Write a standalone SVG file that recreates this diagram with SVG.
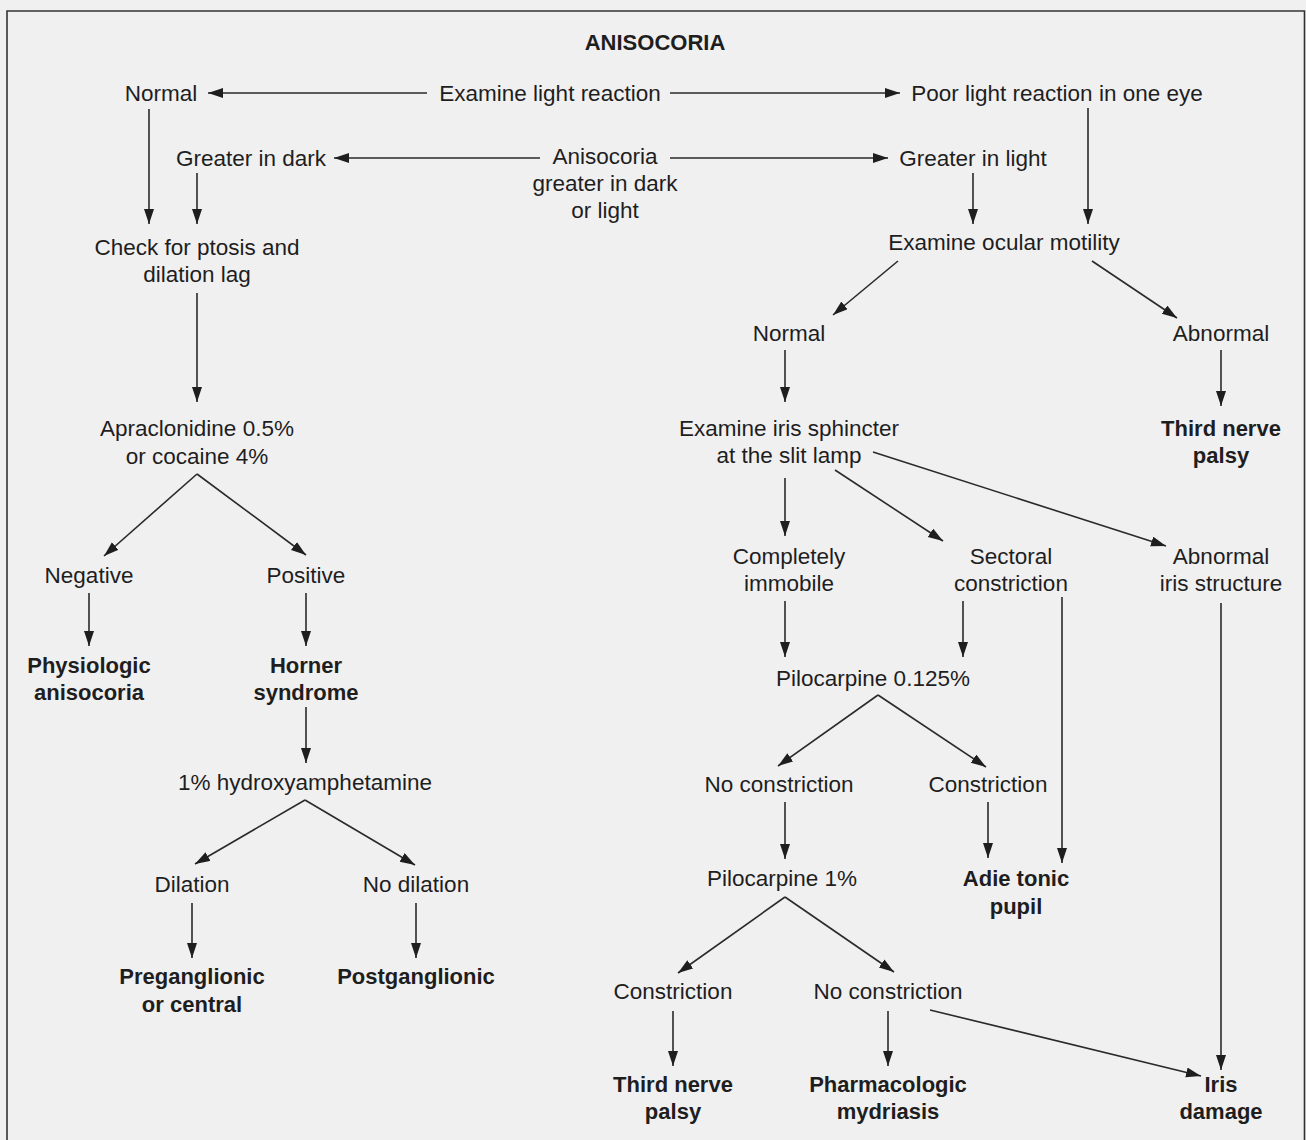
<svg xmlns="http://www.w3.org/2000/svg" width="1306" height="1140" viewBox="0 0 1306 1140">
  <style>
    text { font-family: "Liberation Sans", Arial, sans-serif; font-size: 22.5px; fill: #1e1e1e; text-anchor: middle; }
    .b { font-weight: bold; font-size: 22px; }
    .c { stroke: #2a2a2a; stroke-width: 1.6; fill: none; marker-end: url(#ah); }
  </style>
  <defs>
    <marker id="ah" markerUnits="userSpaceOnUse" markerWidth="16" markerHeight="12" refX="15" refY="5" orient="auto">
      <path d="M0,0 L15,5 L0,10 z" fill="#1e1e1e"/>
    </marker>
  </defs>

  <!-- background and frame -->
  <rect x="0" y="0" width="1306" height="1140" fill="#f1f0f1"/>
  <path d="M7,1140 V11 H1304.5 V1140" fill="none" stroke="#333" stroke-width="1.6"/>

  <!-- connectors -->
  <g id="connectors">
    <line class="c" x1="427" y1="93" x2="208" y2="93"/>
    <line class="c" x1="670" y1="93" x2="900" y2="93"/>
    <line class="c" x1="149" y1="109" x2="149" y2="224"/>
    <line class="c" x1="197" y1="173" x2="197" y2="224"/>
    <line class="c" x1="540" y1="158" x2="334" y2="158"/>
    <line class="c" x1="670" y1="158" x2="888" y2="158"/>
    <line class="c" x1="973" y1="173" x2="973" y2="224"/>
    <line class="c" x1="1088" y1="108" x2="1088" y2="224"/>
    <line class="c" x1="197" y1="293" x2="197" y2="402"/>
    <line class="c" x1="898" y1="261" x2="833" y2="315"/>
    <line class="c" x1="1092" y1="261" x2="1177" y2="318"/>
    <line class="c" x1="785" y1="350" x2="785" y2="402"/>
    <line class="c" x1="1221" y1="350" x2="1221" y2="406"/>
    <line class="c" x1="197" y1="474" x2="104" y2="556"/>
    <line class="c" x1="197" y1="474" x2="306" y2="555"/>
    <line class="c" x1="89" y1="593" x2="89" y2="646"/>
    <line class="c" x1="306" y1="593" x2="306" y2="646"/>
    <line class="c" x1="306" y1="707" x2="306" y2="763"/>
    <line class="c" x1="305" y1="800" x2="195" y2="864"/>
    <line class="c" x1="305" y1="800" x2="415" y2="865"/>
    <line class="c" x1="192" y1="903" x2="192" y2="958"/>
    <line class="c" x1="416" y1="903" x2="416" y2="958"/>
    <line class="c" x1="785" y1="478" x2="785" y2="536"/>
    <line class="c" x1="835" y1="470" x2="943" y2="541"/>
    <line class="c" x1="873" y1="452" x2="1166" y2="546"/>
    <line class="c" x1="785" y1="601" x2="785" y2="657"/>
    <line class="c" x1="963" y1="601" x2="963" y2="657"/>
    <line class="c" x1="1062" y1="597" x2="1062" y2="863"/>
    <line class="c" x1="1221" y1="603" x2="1221" y2="1070"/>
    <line class="c" x1="878" y1="695" x2="778" y2="766"/>
    <line class="c" x1="878" y1="695" x2="986" y2="767"/>
    <line class="c" x1="785" y1="802" x2="785" y2="859"/>
    <line class="c" x1="988" y1="802" x2="988" y2="858"/>
    <line class="c" x1="785" y1="897" x2="678" y2="973"/>
    <line class="c" x1="785" y1="897" x2="894" y2="972"/>
    <line class="c" x1="673" y1="1011" x2="673" y2="1066"/>
    <line class="c" x1="888" y1="1011" x2="888" y2="1066"/>
    <line class="c" x1="930" y1="1010" x2="1201" y2="1076"/>
  </g>

  <!-- nodes -->
  <g id="title"><text class="b" x="655" y="50">ANISOCORIA</text></g>
  <g id="normal-light"><text x="161" y="101">Normal</text></g>
  <g id="examine-light"><text x="550" y="101">Examine light reaction</text></g>
  <g id="poor-light"><text x="1057" y="101">Poor light reaction in one eye</text></g>
  <g id="greater-dark"><text x="251" y="166">Greater in dark</text></g>
  <g id="aniso-dark-light"><text x="605" y="164">Anisocoria</text><text x="605" y="191">greater in dark</text><text x="605" y="218">or light</text></g>
  <g id="greater-light"><text x="973" y="166">Greater in light</text></g>
  <g id="check-ptosis"><text x="197" y="255">Check for ptosis and</text><text x="197" y="282">dilation lag</text></g>
  <g id="ocular-motility"><text x="1004" y="250">Examine ocular motility</text></g>
  <g id="motility-normal"><text x="789" y="341">Normal</text></g>
  <g id="motility-abnormal"><text x="1221" y="341">Abnormal</text></g>
  <g id="apraclonidine"><text x="197" y="436">Apraclonidine 0.5%</text><text x="197" y="464">or cocaine 4%</text></g>
  <g id="iris-sphincter"><text x="789" y="436">Examine iris sphincter</text><text x="789" y="463">at the slit lamp</text></g>
  <g id="third-nerve-1"><text class="b" x="1221" y="436">Third nerve</text><text class="b" x="1221" y="463">palsy</text></g>
  <g id="negative"><text x="89" y="583">Negative</text></g>
  <g id="positive"><text x="306" y="583">Positive</text></g>
  <g id="immobile"><text x="789" y="564">Completely</text><text x="789" y="591">immobile</text></g>
  <g id="sectoral"><text x="1011" y="564">Sectoral</text><text x="1011" y="591">constriction</text></g>
  <g id="abnormal-iris"><text x="1221" y="564">Abnormal</text><text x="1221" y="591">iris structure</text></g>
  <g id="physiologic"><text class="b" x="89" y="673">Physiologic</text><text class="b" x="89" y="700">anisocoria</text></g>
  <g id="horner"><text class="b" x="306" y="673">Horner</text><text class="b" x="306" y="700">syndrome</text></g>
  <g id="pilo-0125"><text x="873" y="686">Pilocarpine 0.125%</text></g>
  <g id="hydroxyamphetamine"><text x="305" y="790">1% hydroxyamphetamine</text></g>
  <g id="no-constriction-1"><text x="779" y="792">No constriction</text></g>
  <g id="constriction-1"><text x="988" y="792">Constriction</text></g>
  <g id="dilation"><text x="192" y="892">Dilation</text></g>
  <g id="no-dilation"><text x="416" y="892">No dilation</text></g>
  <g id="pilo-1"><text x="782" y="886">Pilocarpine 1%</text></g>
  <g id="adie"><text class="b" x="1016" y="886">Adie tonic</text><text class="b" x="1016" y="914">pupil</text></g>
  <g id="preganglionic"><text class="b" x="192" y="984">Preganglionic</text><text class="b" x="192" y="1012">or central</text></g>
  <g id="postganglionic"><text class="b" x="416" y="984">Postganglionic</text></g>
  <g id="constriction-2"><text x="673" y="999">Constriction</text></g>
  <g id="no-constriction-2"><text x="888" y="999">No constriction</text></g>
  <g id="third-nerve-2"><text class="b" x="673" y="1092">Third nerve</text><text class="b" x="673" y="1119">palsy</text></g>
  <g id="pharmacologic"><text class="b" x="888" y="1092">Pharmacologic</text><text class="b" x="888" y="1119">mydriasis</text></g>
  <g id="iris-damage"><text class="b" x="1221" y="1092">Iris</text><text class="b" x="1221" y="1119">damage</text></g>
</svg>
